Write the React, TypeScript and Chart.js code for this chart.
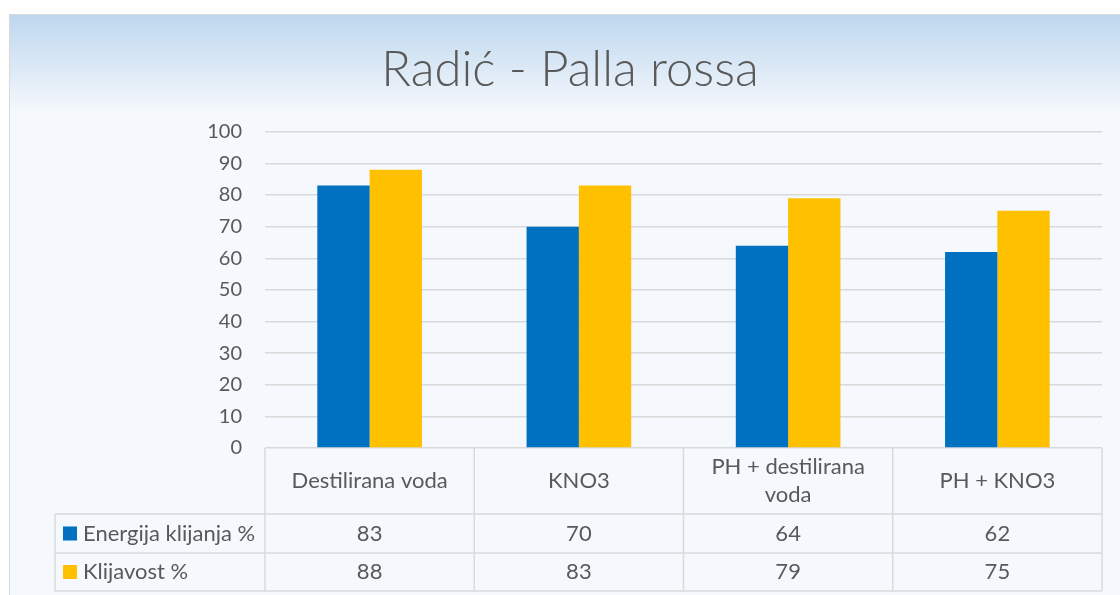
import React, { useEffect, useRef } from "react";
import { Chart, registerables } from "chart.js";

Chart.register(...registerables);

const chartTitle = "Radić - Palla rossa";
const categories = ["Destilirana voda", "KNO3", "PH + destilirana voda", "PH + KNO3"];
const seriesNames = ["Energija klijanja %", "Klijavost %"];
const energijaKlijanja = [83, 70, 64, 62];
const klijavost = [88, 83, 79, 75];
const seriesColors = ["#0070C0", "#FFC000"];
const yMin = 0;
const yMax = 100;
const yStep = 10;

const TEXT = "#595959";
const LINE = "#d9d9d9";
const FONT = "Lato, 'Open Sans', sans-serif";

const framePlugin = {
  id: "frame",
  beforeDraw(chart: any) {
    const { ctx, width, height } = chart;
    ctx.save();
    ctx.fillStyle = "#ffffff";
    ctx.fillRect(0, 0, width, height);
    const g = ctx.createLinearGradient(0, 14, 0, 112);
    g.addColorStop(0, "#bdd7ee");
    g.addColorStop(1, "#f5f8fc");
    ctx.fillStyle = g;
    ctx.fillRect(9.5, 14.5, width + 20, height + 20);
    ctx.strokeStyle = LINE;
    ctx.lineWidth = 1;
    ctx.strokeRect(9.5, 14.5, width + 20, height + 20);
    ctx.restore();
  },
};

function wrapText(ctx: CanvasRenderingContext2D, text: string, maxW: number): string[] {
  const words = text.split(" ");
  const lines: string[] = [];
  let cur = "";
  for (const w of words) {
    const test = cur ? cur + " " + w : w;
    if (ctx.measureText(test).width > maxW && cur) {
      lines.push(cur);
      cur = w;
    } else {
      cur = test;
    }
  }
  if (cur) lines.push(cur);
  return lines;
}

const tablePlugin = {
  id: "dataTable",
  afterDraw(chart: any) {
    const { ctx, chartArea } = chart;
    const xScale = chart.scales.x;
    const n = categories.length;
    const cw = (chartArea.right - chartArea.left) / n;
    const top = chartArea.bottom;
    const r1 = top + 66;
    const r2 = r1 + 39;
    const r3 = r2 + 38;
    const legendLeft = 55;
    ctx.save();
    ctx.strokeStyle = LINE;
    ctx.lineWidth = 1.5;
    ctx.beginPath();
    for (let i = 0; i <= n; i++) {
      const x = chartArea.left + i * cw;
      ctx.moveTo(x, top);
      ctx.lineTo(x, r3);
    }
    ctx.moveTo(legendLeft, r1);
    ctx.lineTo(legendLeft, r3);
    for (const y of [r1, r2, r3]) {
      ctx.moveTo(legendLeft, y);
      ctx.lineTo(chartArea.right, y);
    }
    ctx.stroke();

    ctx.fillStyle = TEXT;
    ctx.font = `22px ${FONT}`;
    ctx.textAlign = "center";
    ctx.textBaseline = "middle";
    categories.forEach((c, i) => {
      const cx = xScale.getPixelForValue(i);
      const lines = wrapText(ctx, c, 180);
      const lh = 28;
      const startY = (top + r1) / 2 - ((lines.length - 1) * lh) / 2;
      lines.forEach((ln, j) => ctx.fillText(ln, cx, startY + j * lh));
    });
    const rows = [energijaKlijanja, klijavost];
    const rowTops = [r1, r2];
    const rowBottoms = [r2, r3];
    rows.forEach((vals, ri) => {
      const cy = (rowTops[ri] + rowBottoms[ri]) / 2;
      vals.forEach((v, i) => {
        ctx.fillText(String(v), xScale.getPixelForValue(i), cy);
      });
      ctx.fillStyle = seriesColors[ri];
      ctx.fillRect(63, cy - 7, 14, 14);
      ctx.fillStyle = TEXT;
      ctx.textAlign = "left";
      ctx.fillText(seriesNames[ri], 83, cy);
      ctx.textAlign = "center";
    });
    ctx.restore();
  },
};

export default function App() {
  const canvasRef = useRef<HTMLCanvasElement | null>(null);

  useEffect(() => {
    if (!canvasRef.current) return;
    const chart = new Chart(canvasRef.current, {
      type: "bar",
      data: {
        labels: categories,
        datasets: [
          {
            label: seriesNames[0],
            data: energijaKlijanja,
            backgroundColor: seriesColors[0],
            categoryPercentage: 0.5,
            barPercentage: 1.0,
          },
          {
            label: seriesNames[1],
            data: klijavost,
            backgroundColor: seriesColors[1],
            categoryPercentage: 0.5,
            barPercentage: 1.0,
          },
        ],
      },
      options: {
        responsive: false,
        animation: false,
        layout: { padding: { left: 38, right: 18, top: 0, bottom: 0 } },
        plugins: {
          legend: { display: false },
          tooltip: { enabled: false },
          title: {
            display: true,
            text: chartTitle,
            color: TEXT,
            font: { family: FONT, size: 49, weight: "300", lineHeight: 1.2 },
            padding: { top: 41, bottom: 32 },
          },
        },
        scales: {
          x: {
            grid: { display: false },
            border: { display: false },
            ticks: { display: false },
            afterFit: (s: any) => {
              s.height = 147;
            },
          },
          y: {
            min: yMin,
            max: yMax,
            ticks: {
              stepSize: yStep,
              color: TEXT,
              font: { family: FONT, size: 20 },
              padding: 23,
            },
            grid: { color: LINE, lineWidth: 1.5, drawTicks: false },
            border: { display: false },
            afterFit: (s: any) => {
              s.width = 227;
            },
          },
        },
      },
      plugins: [framePlugin, tablePlugin],
    });
    return () => chart.destroy();
  }, []);

  return (
    <div style={{ position: "fixed", left: 0, top: 0, width: 1120, height: 595 }}>
      <canvas ref={canvasRef} width={1120} height={595} style={{ display: "block" }} />
    </div>
  );
}
